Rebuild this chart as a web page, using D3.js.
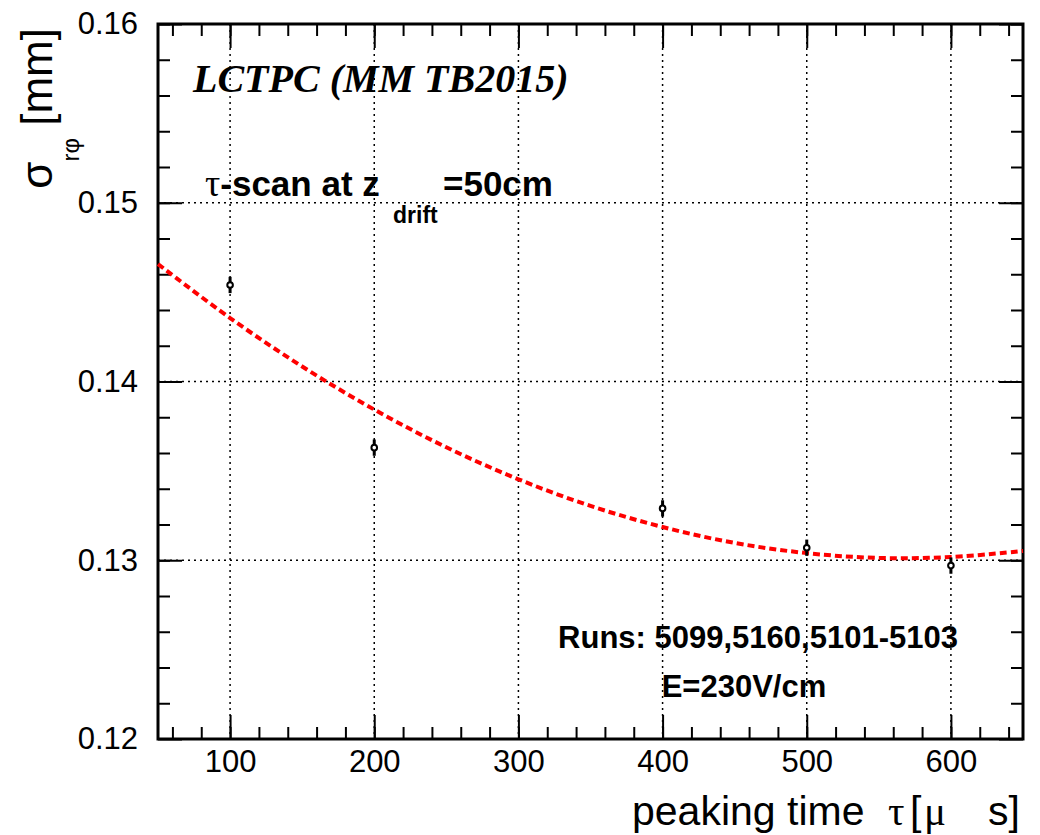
<!DOCTYPE html>
<html>
<head>
<meta charset="utf-8">
<script src="https://cdn.jsdelivr.net/npm/d3@7"></script>
<style>
  body { margin: 0; background: #fff; }
  svg { display: block; font-family: "Liberation Sans", Arial, sans-serif; }
  text { fill: #000; }
</style>
</head>
<body>
<svg width="1040" height="835"></svg>
<script>
// tau-scan points (peaking time vs sigma_rphi)
const tau = [100, 200, 400, 500, 600]
const sigma = [0.1454, 0.1363, 0.1329, 0.1307, 0.1297]
const sigmaErr = [0.0004, 0.0004, 0.0004, 0.0004, 0.0004]

// fit curve
const fitTau = [50, 100, 150, 200, 250, 300, 350, 400, 450, 500, 550, 600, 650]
const fitSigma = [0.14657, 0.14355, 0.14084, 0.13843, 0.13632, 0.13453, 0.13304,
                  0.13186, 0.13097, 0.13040, 0.13013, 0.13018, 0.13052]

const xMajor = [100, 200, 300, 400, 500, 600]
const xMinor = d3.range(60, 650, 20)
const yMajor = [0.12, 0.13, 0.14, 0.15, 0.16]
const yMinor = d3.range(0.122, 0.16, 0.002)

const L = 158, R = 1023, T = 24, B = 739
const serif = '"Liberation Serif", "Times New Roman", serif'
const sans = '"Liberation Sans", Arial, sans-serif'

var svg = d3.select('svg')
var x = d3.scaleLinear().domain([50, 650]).range([L, R])
var y = d3.scaleLinear().domain([0.12, 0.16]).range([B, T])

// grid
var grid = svg.append('g')
  .attr('stroke', '#000').attr('stroke-width', 1.5).attr('stroke-dasharray', '2,4')
grid.selectAll('line.gx').data(xMajor).enter().append('line')
  .attr('x1', d => x(d)).attr('x2', d => x(d)).attr('y1', T).attr('y2', B)
grid.selectAll('line.gy').data(yMajor.slice(1, -1)).enter().append('line')
  .attr('y1', d => y(d)).attr('y2', d => y(d)).attr('x1', L).attr('x2', R)

function styleAxis (g) {
  g.select('.domain').remove()
  g.selectAll('.tick line').attr('stroke', '#000').attr('stroke-width', 2)
  g.selectAll('.tick text').style('font-size', '31px').style('font-family', sans).attr('fill', '#000')
}

// bottom
svg.append('g').attr('transform', `translate(0,${B})`)
  .call(d3.axisBottom(x).tickValues(xMinor).tickSize(-12).tickFormat(''))
  .call(styleAxis)
svg.append('g').attr('transform', `translate(0,${B})`)
  .call(d3.axisBottom(x).tickValues(xMajor).tickSize(-24).tickPadding(11).tickFormat(d3.format('d')))
  .call(styleAxis)
// top
svg.append('g').attr('transform', `translate(0,${T})`)
  .call(d3.axisTop(x).tickValues(xMinor).tickSize(-12).tickFormat(''))
  .call(styleAxis)
svg.append('g').attr('transform', `translate(0,${T})`)
  .call(d3.axisTop(x).tickValues(xMajor).tickSize(-24).tickFormat(''))
  .call(styleAxis)
// left
svg.append('g').attr('transform', `translate(${L},0)`)
  .call(d3.axisLeft(y).tickValues(yMinor).tickSize(-12).tickFormat(''))
  .call(styleAxis)
svg.append('g').attr('transform', `translate(${L},0)`)
  .call(d3.axisLeft(y).tickValues(yMajor).tickSize(-24).tickPadding(20).tickFormat(d3.format('.2f')))
  .call(styleAxis)
// right
svg.append('g').attr('transform', `translate(${R},0)`)
  .call(d3.axisRight(y).tickValues(yMinor).tickSize(-12).tickFormat(''))
  .call(styleAxis)
svg.append('g').attr('transform', `translate(${R},0)`)
  .call(d3.axisRight(y).tickValues(yMajor).tickSize(-24).tickFormat(''))
  .call(styleAxis)

// frame
svg.append('rect').attr('x', L).attr('y', T).attr('width', R - L).attr('height', B - T)
  .attr('fill', 'none').attr('stroke', '#000').attr('stroke-width', 3)

// fit curve
var fitData = fitTau.map((t, i) => ({ t: t, s: fitSigma[i] }))
var line = d3.line().x(d => x(d.t)).y(d => y(d.s)).curve(d3.curveCatmullRom)
svg.append('path').datum(fitData)
  .attr('d', line)
  .attr('fill', 'none').attr('stroke', '#ff0000').attr('stroke-width', 4)
  .attr('stroke-dasharray', '7,4')

// data points
var pts = tau.map((t, i) => ({ t: t, s: sigma[i], e: sigmaErr[i] }))
var pg = svg.append('g').selectAll('g').data(pts).enter().append('g')
pg.append('line')
  .attr('x1', d => x(d.t)).attr('x2', d => x(d.t))
  .attr('y1', d => y(d.s + d.e) - 1).attr('y2', d => y(d.s - d.e) + 1)
  .attr('stroke', '#000').attr('stroke-width', 3)
pg.append('circle')
  .attr('cx', d => x(d.t)).attr('cy', d => y(d.s)).attr('r', 2.8)
  .attr('fill', '#fff').attr('stroke', '#000').attr('stroke-width', 2)

// texts
svg.append('text').attr('x', 193).attr('y', 92)
  .style('font-family', serif).style('font-weight', 'bold').style('font-style', 'italic')
  .style('font-size', '40px')
  .text('LCTPC (MM TB2015)')

var scan = svg.append('g').style('font-weight', 'bold')
scan.append('text').attr('x', 205).attr('y', 196).style('font-size', '35px')
  .call(t => {
    t.append('tspan').style('font-family', serif).style('font-weight', 'normal').style('font-size', '38px').text('τ')
    t.append('tspan').text('-scan at z')
  })
scan.append('text').attr('x', 393).attr('y', 223).style('font-size', '23px').text('drift')
scan.append('text').attr('x', 443).attr('y', 196).style('font-size', '35px').text('=50cm')

svg.append('text').attr('x', 758).attr('y', 648).attr('text-anchor', 'middle')
  .style('font-weight', 'bold').style('font-size', '31px').text('Runs: 5099,5160,5101-5103')
svg.append('text').attr('x', 744).attr('y', 697).attr('text-anchor', 'middle')
  .style('font-weight', 'bold').style('font-size', '31px').text('E=230V/cm')

// x title
var xt = svg.append('text').attr('y', 825).style('font-size', '41px')
xt.append('tspan').attr('x', 632).text('peaking time')
xt.append('tspan').attr('x', 888).style('font-family', serif).text('τ')
xt.append('tspan').attr('x', 910).text('[')
xt.append('tspan').attr('x', 924).style('font-family', serif).text('μ')
xt.append('tspan').attr('x', 988).text('s]')

// y title
svg.append('text').attr('transform', 'translate(52,28) rotate(-90)')
  .attr('text-anchor', 'end').style('font-size', '44px')
  .call(t => {
    t.append('tspan').text('σ')
    t.append('tspan').style('font-size', '24px').attr('dy', 27).text('rφ')
    t.append('tspan').attr('dy', -27).text(' [mm]')
  })
</script>
</body>
</html>
